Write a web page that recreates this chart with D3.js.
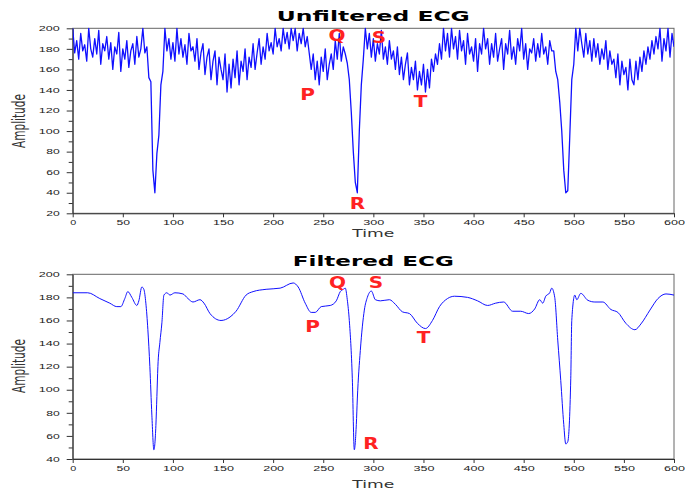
<!DOCTYPE html>
<html>
<head>
<meta charset="utf-8">
<script src="https://cdn.jsdelivr.net/npm/d3@7"></script>
<style>
  body { margin: 0; background: #fff; }
</style>
</head>
<body>
<div id="chart"></div>
<script>
// Raw ECG, one sample every 2 time units
const rawStep = 2;
const rawAmp = [
  200,176,188,170,195,178,184,168,200,180,
  172,190,175,198,165,185,178,192,170,186,
  160,182,175,196,158,180,170,188,162,178,
  185,165,192,172,180,200,176,182,152,148,
  62,40,78,96,145,158,200,178,190,170,
  186,168,200,175,190,172,184,165,195,178,
  182,168,190,160,176,185,155,172,180,150,
  168,178,145,172,160,150,175,138,165,142,
  170,152,178,145,168,158,180,150,172,162,
  185,160,176,190,165,182,170,195,178,186,
  175,200,182,190,178,200,185,196,180,200,
  188,200,178,195,185,200,182,192,176,160,
  175,150,168,145,172,158,180,150,165,175,
  160,188,170,195,168,182,175,166,150,118,
  80,50,40,100,145,170,200,180,195,172,
  190,168,185,175,198,170,182,165,188,170,
  178,160,182,155,172,150,165,176,145,162,
  150,168,140,158,145,165,138,160,142,170,
  158,175,165,185,170,200,178,195,172,200,
  180,192,170,198,178,188,165,195,175,182,
  168,190,158,185,175,200,180,190,165,185,
  172,195,168,180,190,160,185,175,198,170,
  182,165,190,178,200,170,185,160,180,176,
  190,168,185,172,195,175,182,165,188,178,
  178,158,150,128,100,62,40,42,95,150,
  165,200,178,200,185,172,195,175,188,168,
  190,172,185,165,180,170,188,160,178,165,
  170,152,175,145,168,155,162,140,170,150,
  145,168,150,172,158,178,165,182,170,188,
  175,192,180,200,168,190,178,200,172,195,
  182
];

// Filtered ECG
const filtTime = [0,15,27,37,44,48,52,55,59,64,66,69,71,73,75,77,79,81,83,84,85,87,89,91,94,97,
  102,110,115,120,127,131,137,148,157,163,173,180,193,207,220,225,232,238,242,248,257,263,267,
  270,272,274,276,279,281,283,284,287,291,294,298,302,307,316,322,329,336,344,352,359,366,374,
  381,394,404,414,422,430,439,447,455,461,466,469,472,476,478,481,484,487,490,492,494,497,498,
  501,503,507,514,521,529,537,544,552,561,567,576,584,592,600];
const filtAmp = [184,184,179,175,172,172,179,185,180,173,177,189,187,175,152,120,78,48,69,94,120,141,158,182,184,182,
  184,183,179,176,178,175,166,160,163,168,182,185,187,188,192.5,189,175,167,167,172,173,177,185,
  187,188,178,160,110,48,70,92,134,169,180,185.5,178,177,178,174,167.5,166,157.5,153,160,172,179,
  181,180,177,173,175,176,168,168,166,170,178,175,181,184,188,180,143,108,70,53,55,110,160,
  182,178,183.5,177.5,176,176,169.5,167,157.5,152,157,169,179,183,182];

// Axis ticks
const xTicks = [0,50,100,150,200,250,300,350,400,450,500,550,600];
const rawYTicks = [20,40,60,80,100,120,140,160,180,200];
const rawYMinor = [30,50,70,90,110,130,150,170,190];
const filtYTicks = [40,60,80,100,120,140,160,180,200];
const filtYMinor = [50,70,90,110,130,150,170,190];

// Wave labels
const waveNames = ["P","Q","S","T","R"];
const rawMarkTime = [234.3,263.7,305.6,347,284.2];
const rawMarkAmp = [130.3,187.6,186,123.7,24.2];
const filtMarkTime = [239.3,264.2,302.6,350.2,297.6];
const filtMarkAmp = [150.3,188,187.9,140.2,48.6];

const width = 685, height = 491;
const svg = d3.select("#chart").append("svg")
  .attr("width", width)
  .attr("height", height)
  .style("font-family", "DejaVu Sans");

const xScale = d3.scaleLinear().domain([0, 600]).range([72.7, 674]);

const panels = [
  {
    title: "Unfiltered ECG", titleY: 20.7, titleLen: 193,
    top: 28.3, bottom: 213.3, yDomain: [20, 200],
    yTicks: rawYTicks, yMinor: rawYMinor,
    time: rawAmp.map((d, i) => i * rawStep), amp: rawAmp,
    curve: d3.curveLinear, lineWidth: 1.3,
    markTime: rawMarkTime, markAmp: rawMarkAmp,
    timeY: 237, ampY: 121,
  },
  {
    title: "Filtered ECG", titleY: 265.7, titleLen: 161,
    top: 274.3, bottom: 459, yDomain: [40, 200],
    yTicks: filtYTicks, yMinor: filtYMinor,
    time: filtTime, amp: filtAmp,
    curve: d3.curveMonotoneX, lineWidth: 1,
    markTime: filtMarkTime, markAmp: filtMarkAmp,
    timeY: 488, ampY: 366,
  },
];

// stretch tick labels the way the picture does
const stretchTicks = (sel) =>
  sel.selectAll(".tick text")
    .attr("font-size", 7)
    .attr("fill", "#222")
    .attr("textLength", function () { return this.textContent.length * 7.5 - 1.5; })
    .attr("lengthAdjust", "spacingAndGlyphs");

panels.forEach((p, k) => {
  const yScale = d3.scaleLinear().domain(p.yDomain).range([p.bottom, p.top]);
  const g = svg.append("g");

  // frame
  g.append("rect")
    .attr("x", xScale(0)).attr("y", p.top)
    .attr("width", xScale(600) - xScale(0))
    .attr("height", p.bottom - p.top)
    .attr("fill", "none")
    .attr("stroke", "#666")
    .attr("stroke-width", 1);

  const clipId = "clip" + k;
  g.append("clipPath").attr("id", clipId)
    .append("rect")
    .attr("x", xScale(0)).attr("y", p.top - 1)
    .attr("width", xScale(600) - xScale(0))
    .attr("height", p.bottom - p.top + 1);

  // minor y ticks
  g.append("g")
    .attr("transform", `translate(${xScale(0)},0)`)
    .call(d3.axisLeft(yScale).tickValues(p.yMinor).tickFormat("").tickSize(4))
    .call((a) => a.select(".domain").remove())
    .call((a) => a.selectAll("line").attr("stroke", "#333"));

  // y axis
  g.append("g")
    .attr("transform", `translate(${xScale(0)},0)`)
    .call(d3.axisLeft(yScale).tickValues(p.yTicks).tickSize(6).tickSizeOuter(0).tickPadding(7))
    .call((a) => a.selectAll("line, .domain").attr("stroke", "#333"))
    .call(stretchTicks);

  // x axis
  g.append("g")
    .attr("transform", `translate(0,${p.bottom})`)
    .call(d3.axisBottom(xScale).tickValues(xTicks).tickSize(4).tickSizeOuter(0).tickPadding(3))
    .call((a) => a.selectAll("line, .domain").attr("stroke", "#333"))
    .call(stretchTicks);

  // ECG trace
  const line = d3.line()
    .x((d, i) => xScale(p.time[i]))
    .y((d) => yScale(d))
    .curve(p.curve);

  g.append("path")
    .datum(p.amp)
    .attr("clip-path", `url(#${clipId})`)
    .attr("fill", "none")
    .attr("stroke", "#1010ff")
    .attr("stroke-width", p.lineWidth)
    .attr("stroke-linejoin", "round")
    .attr("d", line);

  // P Q R S T labels
  g.selectAll(".mark")
    .data(waveNames)
    .enter()
    .append("text")
    .attr("class", "mark")
    .attr("transform", (d, i) =>
      `translate(${xScale(p.markTime[i])},${yScale(p.markAmp[i])}) scale(1.25,1)`)
    .attr("text-anchor", "middle")
    .attr("font-size", 16)
    .attr("font-weight", "bold")
    .attr("fill", "#f22")
    .text((d) => d);

  // title
  g.append("text")
    .attr("x", (xScale(0) + xScale(600)) / 2)
    .attr("y", p.titleY)
    .attr("text-anchor", "middle")
    .attr("font-size", 14.5)
    .attr("font-weight", "bold")
    .attr("textLength", p.titleLen)
    .attr("lengthAdjust", "spacingAndGlyphs")
    .text(p.title);

  // axis titles
  g.append("text")
    .attr("x", (xScale(0) + xScale(600)) / 2)
    .attr("y", p.timeY)
    .attr("text-anchor", "middle")
    .attr("font-size", 10)
    .attr("fill", "#333")
    .attr("textLength", 42)
    .attr("lengthAdjust", "spacingAndGlyphs")
    .text("Time");

  g.append("text")
    .attr("transform", `translate(25,${p.ampY}) scale(1.6,1) rotate(-90)`)
    .attr("text-anchor", "middle")
    .attr("font-size", 10.5)
    .attr("fill", "#333")
    .text("Amplitude");
});
</script>
</body>
</html>
